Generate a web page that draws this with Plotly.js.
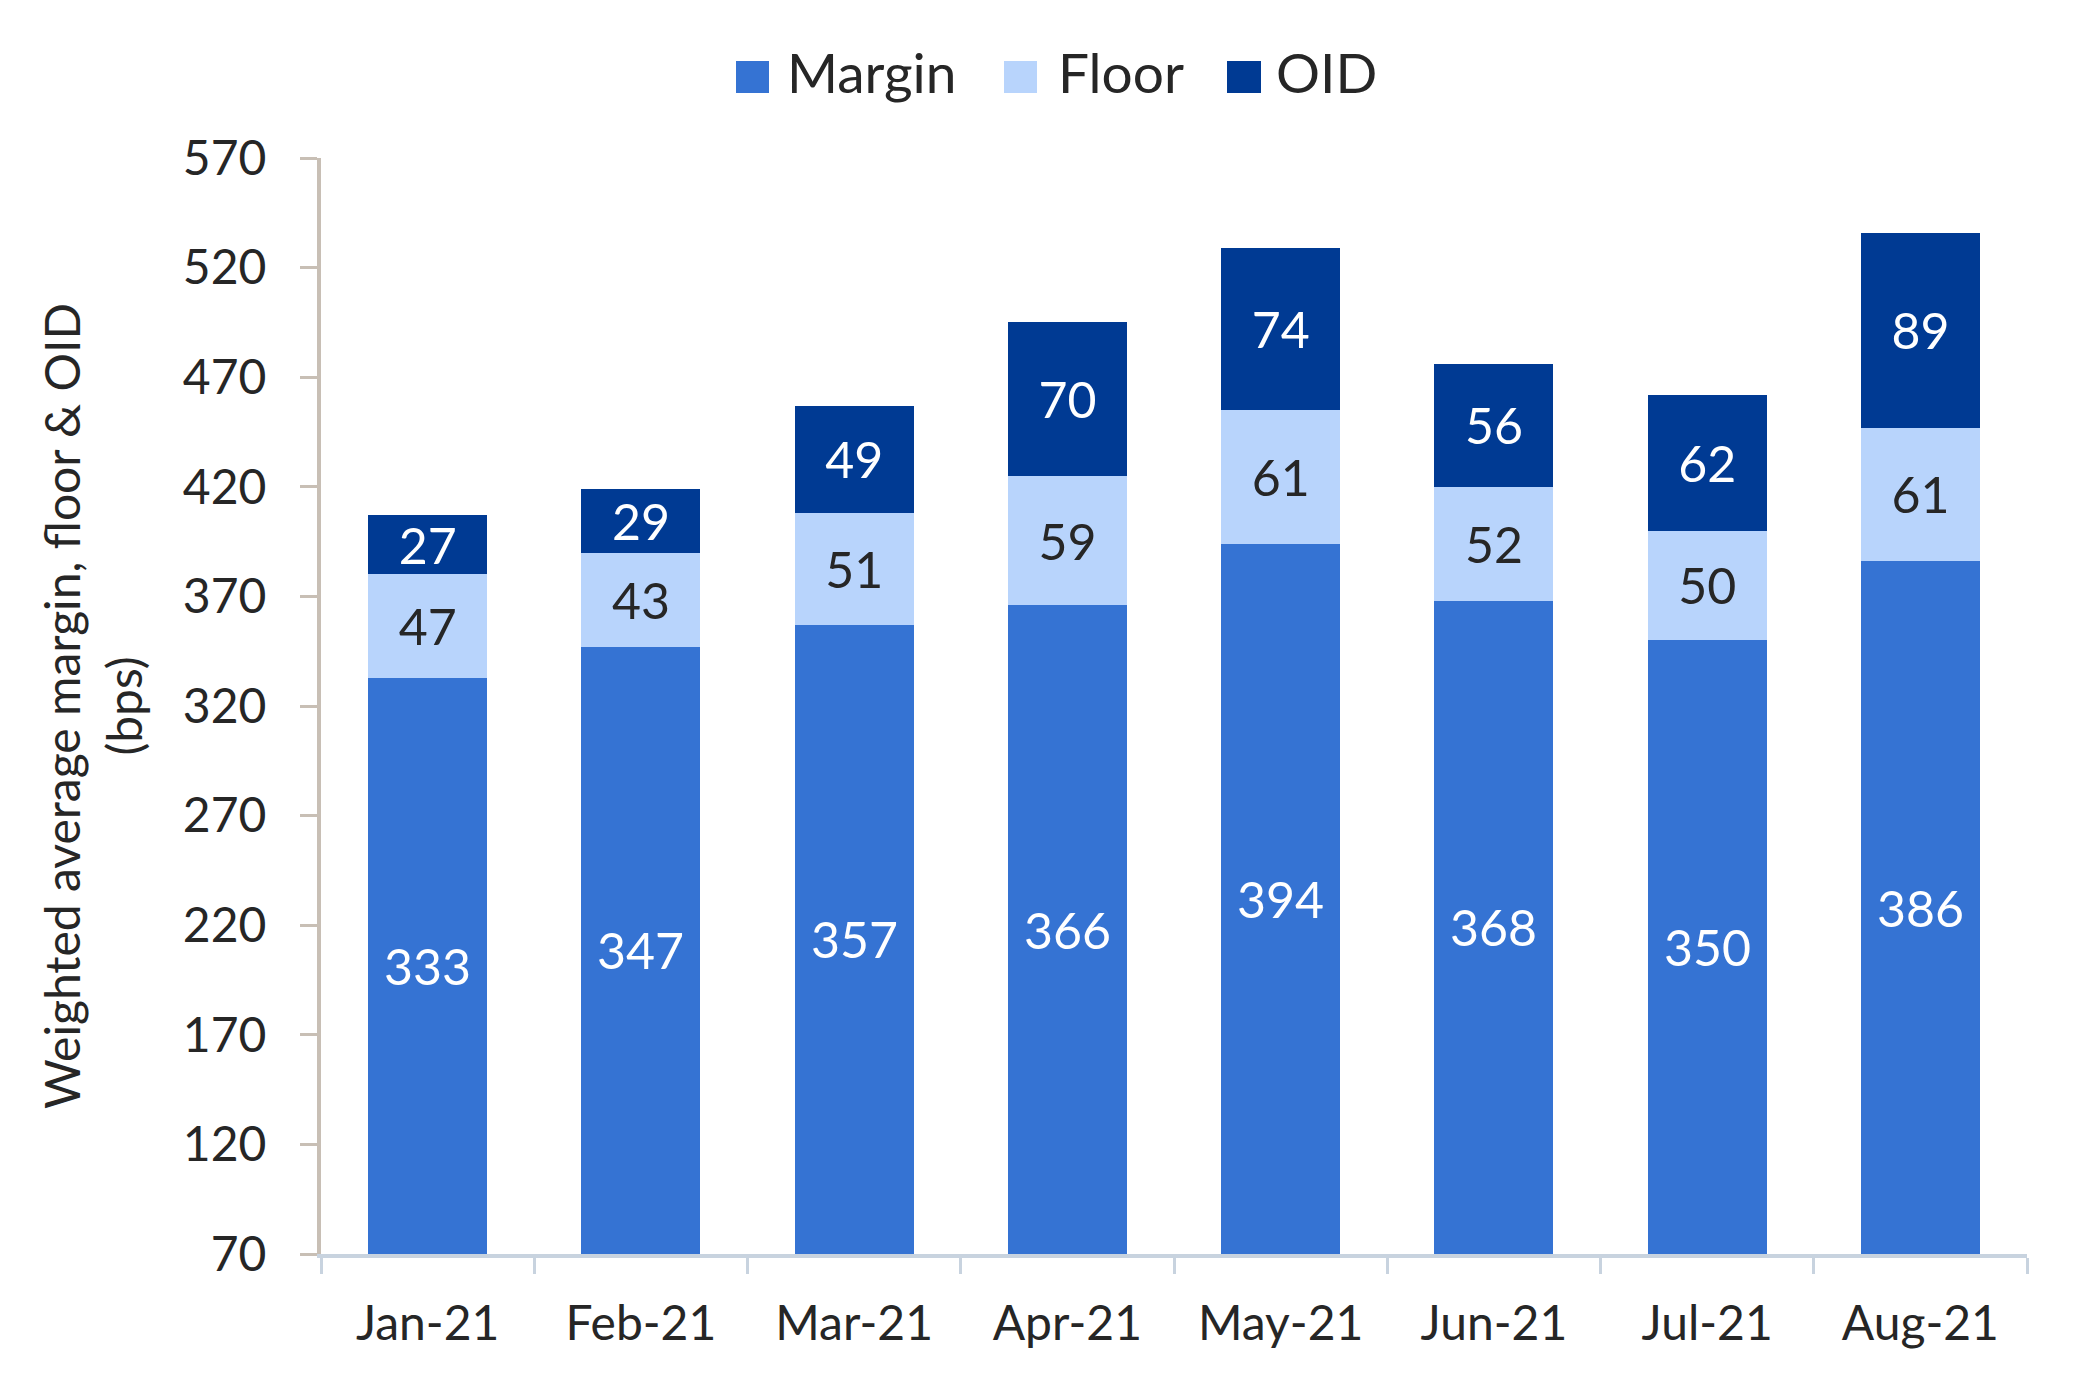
<!DOCTYPE html>
<html>
<head>
<meta charset="utf-8">
<script src="https://cdn.plot.ly/plotly-3.0.1.min.js"></script>
<style>
  html, body { margin: 0; padding: 0; background: #ffffff; }
  #chart { width: 2099px; height: 1388px; }
</style>
</head>
<body>
<div id="chart"></div>
<script>
const categories = ["Jan-21", "Feb-21", "Mar-21", "Apr-21", "May-21", "Jun-21", "Jul-21", "Aug-21"];
const marginValues = [333, 347, 357, 366, 394, 368, 350, 386];
const floorValues = [47, 43, 51, 59, 61, 52, 50, 61];
const oidValues = [27, 29, 49, 70, 74, 56, 62, 89];
const yTickValues = [70, 120, 170, 220, 270, 320, 370, 420, 470, 520, 570];
const seriesNames = ["Margin", "Floor", "OID"];
const seriesColors = ["#3573D3", "#B8D4FC", "#003A93"];

const FONT = "Lato, 'Noto Sans', sans-serif";
const TEXT = "#262626";
const Y_MIN = 70, Y_MAX = 570;

// plot-area geometry (pixels) used to place the custom legend
const W = 2099, H = 1388;
const M = { l: 321, r: 72, t: 158, b: 134 };
const PW = W - M.l - M.r, PH = H - M.t - M.b;
const px2paperX = (px) => (px - M.l) / PW;
const px2paperY = (py) => (H - M.b - py) / PH;

function barTrace(i, values, textColor, showText) {
  return {
    type: "bar",
    name: seriesNames[i],
    x: categories,
    y: values,
    marker: { color: seriesColors[i], line: { width: 0 } },
    text: values.map(String),
    textposition: showText ? "inside" : "none",
    insidetextanchor: "middle",
    textangle: 0,
    constraintext: "none",
    textfont: { family: FONT, size: 50, color: textColor },
    showlegend: false,
    hoverinfo: "x+y+name"
  };
}

const data = [
  barTrace(0, marginValues, "#ffffff", false),
  barTrace(1, floorValues, TEXT, true),
  barTrace(2, oidValues, "#ffffff", true)
];

// Margin labels centred on the visible part of each bar
const annotations = categories.map((c, i) => ({
  x: c,
  y: (Y_MIN + marginValues[i]) / 2,
  xref: "x",
  yref: "y",
  text: String(marginValues[i]),
  showarrow: false,
  font: { family: FONT, size: 50, color: "#ffffff" },
  xanchor: "center",
  yanchor: "middle"
}));

// custom legend (squares + labels)
const legendSquares = [[736, 769], [1004, 1037], [1227, 1261]];
const legendTextX = [787, 1058, 1276];
const LEG_Y0 = 61, LEG_Y1 = 93;
const shapes = [];
seriesNames.forEach((n, i) => {
  shapes.push({
    type: "rect",
    xref: "paper",
    yref: "paper",
    x0: px2paperX(legendSquares[i][0]),
    x1: px2paperX(legendSquares[i][1]),
    y0: px2paperY(LEG_Y1),
    y1: px2paperY(LEG_Y0),
    fillcolor: seriesColors[i],
    line: { width: 0 }
  });
  annotations.push({
    xref: "paper",
    yref: "paper",
    x: px2paperX(legendTextX[i] - 2),
    y: px2paperY((LEG_Y0 + LEG_Y1) / 2 - 5),
    text: n,
    showarrow: false,
    xanchor: "left",
    yanchor: "middle",
    font: { family: FONT, size: 55, color: TEXT }
  });
});

const layout = {
  width: W,
  height: H,
  margin: { l: M.l, r: M.r, t: M.t, b: M.b, pad: 0 },
  paper_bgcolor: "#ffffff",
  plot_bgcolor: "#ffffff",
  barmode: "stack",
  bargap: 0.442,
  font: { family: FONT, color: TEXT, size: 48 },
  showlegend: false,
  annotations: annotations,
  shapes: shapes,
  xaxis: {
    type: "category",
    range: [-0.5, 7.5],
    showgrid: false,
    zeroline: false,
    showline: true,
    linecolor: "#C8D3DF",
    linewidth: 4,
    ticks: "outside",
    tickson: "boundaries",
    ticklen: 16,
    tickwidth: 3,
    tickcolor: "#C8D3DF",
    ticklabelstandoff: 24,
    tickfont: { family: FONT, size: 48, color: TEXT },
    fixedrange: true
  },
  yaxis: {
    range: [Y_MIN, Y_MAX],
    tickvals: yTickValues,
    ticktext: yTickValues.map(String),
    showgrid: false,
    zeroline: false,
    showline: true,
    linecolor: "#C8BFB5",
    linewidth: 4,
    ticks: "outside",
    ticklen: 17,
    tickwidth: 3,
    tickcolor: "#C8BFB5",
    ticklabelstandoff: 24,
    tickfont: { family: FONT, size: 48, color: TEXT },
    title: {
      text: "Weighted average margin, floor & OID<br>(bps)",
      font: { family: FONT, size: 48, color: TEXT },
      standoff: 26
    },
    fixedrange: true
  }
};

Plotly.newPlot("chart", data, layout, { displayModeBar: false, staticPlot: true });
</script>
</body>
</html>
